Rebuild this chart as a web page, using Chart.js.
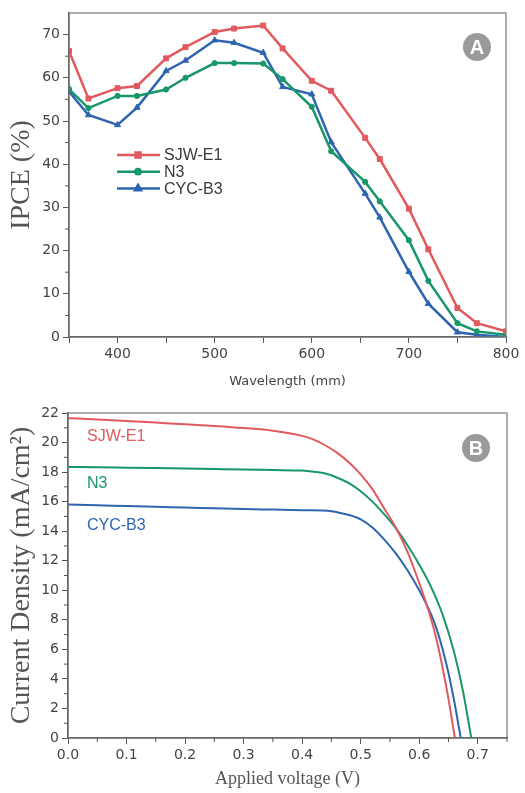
<!DOCTYPE html>
<html>
<head>
<meta charset="utf-8">
<script src="https://cdn.jsdelivr.net/npm/chart.js@4/dist/chart.umd.min.js"></script>
<style>
  body { margin: 0; background: #fff; }
  #wrap { position: relative; width: 525px; height: 793px; }
  #chartA { position: absolute; left: 0; top: 0; }
  #chartB { position: absolute; left: 0; top: 390px; }
</style>
</head>
<body>
<div id="wrap">
  <canvas id="chartA" width="525" height="390"></canvas>
  <canvas id="chartB" width="525" height="403"></canvas>
</div>
<script>
// ---- panel A : IPCE vs wavelength ----
var wavelengths = [350, 370, 400, 420, 450, 470, 500, 520, 550, 570, 600, 620, 655, 670, 700, 720, 750, 770, 800];
var ipceSJW = [66.2, 55.2, 57.6, 58.1, 64.5, 67.1, 70.6, 71.4, 72.1, 66.8, 59.3, 57.0, 46.1, 41.2, 29.7, 20.3, 6.7, 3.2, 1.3];
var ipceN3  = [57.4, 53.0, 55.8, 55.8, 57.3, 60.0, 63.4, 63.4, 63.3, 59.7, 53.3, 43.0, 35.9, 31.4, 22.4, 13.0, 3.2, 1.3, 0.5];
var ipceCYC = [56.8, 51.4, 49.1, 53.1, 61.6, 64.0, 68.7, 68.1, 65.8, 57.9, 56.2, 45.1, 33.2, 27.7, 15.1, 7.7, 1.1, 0.5, 0.0];
var ipceXTicks = [350, 400, 450, 500, 550, 600, 650, 700, 750, 800];
var ipceYTicks = [0, 10, 20, 30, 40, 50, 60, 70];
var ipceYMinor = [5, 15, 25, 35, 45, 55, 65];

// ---- panel B : J-V curves ----
var sjwV = [0, 0.05, 0.1, 0.15, 0.2, 0.25, 0.3, 0.35, 0.4, 0.42, 0.44, 0.46, 0.48, 0.5, 0.52, 0.54, 0.56, 0.58, 0.6, 0.61, 0.62, 0.63, 0.64, 0.65, 0.661];
var sjwJ = [21.65, 21.56, 21.46, 21.35, 21.24, 21.12, 20.98, 20.8, 20.45, 20.2, 19.8, 19.3, 18.65, 17.85, 16.85, 15.55, 14.25, 12.6, 10.5, 9.35, 8.1, 6.6, 4.75, 2.65, 0];
var n3V  = [0, 0.05, 0.1, 0.15, 0.2, 0.25, 0.3, 0.35, 0.4, 0.42, 0.44, 0.46, 0.48, 0.5, 0.52, 0.54, 0.56, 0.58, 0.6, 0.62, 0.64, 0.66, 0.675, 0.689];
var n3J  = [18.35, 18.33, 18.3, 18.27, 18.24, 18.21, 18.18, 18.14, 18.1, 18.02, 17.9, 17.62, 17.25, 16.7, 16.0, 15.15, 14.2, 13.05, 11.75, 10.25, 8.35, 5.75, 3.13, 0];
var cycV = [0, 0.05, 0.1, 0.15, 0.2, 0.25, 0.3, 0.35, 0.4, 0.45, 0.46, 0.48, 0.5, 0.52, 0.54, 0.56, 0.58, 0.6, 0.62, 0.63, 0.64, 0.65, 0.66, 0.671];
var cycJ = [15.8, 15.75, 15.7, 15.65, 15.6, 15.55, 15.5, 15.46, 15.42, 15.35, 15.28, 15.1, 14.8, 14.25, 13.45, 12.5, 11.35, 10.0, 8.4, 7.35, 6.0, 4.4, 2.45, 0];
var jvXTicks = [0, 0.1, 0.2, 0.3, 0.4, 0.5, 0.6, 0.7];
var jvXMinor = [0.05, 0.15, 0.25, 0.35, 0.45, 0.55, 0.65, 0.75];
var jvYTicks = [0, 2, 4, 6, 8, 10, 12, 14, 16, 18, 20, 22];
var jvYMinor = [1, 3, 5, 7, 9, 11, 13, 15, 17, 19, 21];

var seriesNames = ['SJW-E1', 'N3', 'CYC-B3'];
var RED = '#e05a5e', GREEN = '#17976a', BLUE = '#2e64b0';
var AXIS = '#555';

function pairs(xs, ys) {
  return xs.map(function (x, i) { return { x: x, y: ys[i] }; });
}
function fixTicks(values) {
  return function (scale) { scale.ticks = values.map(function (v) { return { value: v }; }); };
}

var tickFont = { family: 'DejaVu Sans', size: 14 };

// box, minor ticks, badge, in-plot labels
var decorPlugin = {
  id: 'decor',
  afterDraw: function (chart, args, opts) {
    var ctx = chart.ctx, a = chart.chartArea;
    ctx.save();
    ctx.strokeStyle = '#777';
    ctx.lineWidth = 1.2;
    ctx.strokeRect(a.left, a.top, a.right - a.left, a.bottom - a.top);

    ctx.strokeStyle = AXIS;
    ctx.lineWidth = 1;
    (opts.minorX || []).forEach(function (v) {
      var x = chart.scales.x.getPixelForValue(v);
      ctx.beginPath(); ctx.moveTo(x, a.bottom); ctx.lineTo(x, a.bottom + 4); ctx.stroke();
    });
    (opts.minorY || []).forEach(function (v) {
      var y = chart.scales.y.getPixelForValue(v);
      ctx.beginPath(); ctx.moveTo(a.left, y); ctx.lineTo(a.left - 4, y); ctx.stroke();
    });

    if (opts.badge) {
      var b = opts.badge;
      ctx.fillStyle = '#9a9a9a';
      ctx.beginPath(); ctx.arc(b.x, b.y, 14, 0, Math.PI * 2); ctx.fill();
      ctx.fillStyle = '#fff';
      ctx.font = 'bold 20px "Liberation Sans"';
      ctx.textAlign = 'center';
      ctx.textBaseline = 'middle';
      ctx.fillText(b.text, b.x, b.y + 1);
    }

    if (opts.legend) {
      ctx.font = '16px "Liberation Sans"';
      ctx.textAlign = 'left';
      ctx.textBaseline = 'middle';
      chart.data.datasets.forEach(function (ds, i) {
        var y = opts.legend.y + i * 16.7;
        ctx.strokeStyle = ds.borderColor;
        ctx.lineWidth = 2.5;
        ctx.beginPath(); ctx.moveTo(opts.legend.x, y); ctx.lineTo(opts.legend.x + 43, y); ctx.stroke();
        ctx.fillStyle = ds.borderColor;
        Chart.helpers.drawPoint(ctx, { pointStyle: ds.pointStyle, radius: ds.pointRadius, rotation: 0, borderWidth: 1 }, opts.legend.x + 21, y);
        ctx.fillStyle = '#3a3a3a';
        ctx.fillText(ds.label, opts.legend.x + 47, y + 1);
      });
    }

    if (opts.labels) {
      ctx.font = '16px "Liberation Sans"';
      ctx.textAlign = 'left';
      ctx.textBaseline = 'middle';
      opts.labels.forEach(function (l, i) {
        ctx.fillStyle = chart.data.datasets[i].borderColor;
        ctx.fillText(chart.data.datasets[i].label, l.x, l.y);
      });
    }
    ctx.restore();
  }
};

var whiteBg = {
  id: 'whiteBg',
  beforeDraw: function (chart) {
    var ctx = chart.ctx;
    ctx.save();
    ctx.fillStyle = 'white';
    ctx.fillRect(0, 0, chart.width, chart.height);
    ctx.restore();
  }
};

var chartA = new Chart(document.getElementById('chartA'), {
  type: 'line',
  data: {
    datasets: [
      { label: seriesNames[0], data: pairs(wavelengths, ipceSJW), borderColor: RED, backgroundColor: RED,
        pointStyle: 'rect', pointRadius: 3.5, pointBorderWidth: 1, borderWidth: 2.5, tension: 0 },
      { label: seriesNames[1], data: pairs(wavelengths, ipceN3), borderColor: GREEN, backgroundColor: GREEN,
        pointStyle: 'circle', pointRadius: 2.6, pointBorderWidth: 1, borderWidth: 2.5, tension: 0 },
      { label: seriesNames[2], data: pairs(wavelengths, ipceCYC), borderColor: BLUE, backgroundColor: BLUE,
        pointStyle: 'triangle', pointRadius: 3.5, pointBorderWidth: 1, borderWidth: 2.5, tension: 0 }
    ]
  },
  options: {
    animation: false,
    responsive: false,
    layout: { padding: { left: 0, right: 19, top: 13, bottom: 0 } },
    plugins: {
      legend: { display: false },
      tooltip: { enabled: false },
      decor: {
        minorY: ipceYMinor,
        badge: { x: 477, y: 47, text: 'A' },
        legend: { x: 117, y: 155 }
      }
    },
    scales: {
      x: {
        type: 'linear', min: 350, max: 800,
        afterBuildTicks: fixTicks(ipceXTicks),
        afterFit: function (s) { s.height = 53; },
        border: { display: true, color: AXIS, width: 1.5 },
        grid: { drawOnChartArea: false, drawTicks: true, tickLength: 6, tickColor: AXIS },
        ticks: { font: tickFont, color: '#444', padding: 3, maxRotation: 0,
          callback: function (v) { return v % 100 === 0 ? v : ''; } },
        title: { display: true, text: 'Wavelength (mm)', font: { family: 'DejaVu Sans', size: 13 },
          color: '#444', padding: { top: 0, bottom: 1 } }
      },
      y: {
        min: 0, max: 75,
        afterBuildTicks: fixTicks(ipceYTicks),
        afterFit: function (s) { s.width = 69; },
        border: { display: true, color: AXIS, width: 1.5 },
        grid: { drawOnChartArea: false, drawTicks: true, tickLength: 6, tickColor: AXIS },
        ticks: { font: tickFont, color: '#444', padding: 3 },
        title: { display: true, text: 'IPCE (%)', font: { family: 'Liberation Serif', size: 28 },
          color: '#555', padding: { top: 5, bottom: 0 } }
      }
    }
  },
  plugins: [whiteBg, decorPlugin]
});

var chartB = new Chart(document.getElementById('chartB'), {
  type: 'line',
  data: {
    datasets: [
      { label: seriesNames[0], data: pairs(sjwV, sjwJ), borderColor: RED, borderWidth: 2, pointRadius: 0,
        cubicInterpolationMode: 'monotone' },
      { label: seriesNames[1], data: pairs(n3V, n3J), borderColor: GREEN, borderWidth: 2, pointRadius: 0,
        cubicInterpolationMode: 'monotone' },
      { label: seriesNames[2], data: pairs(cycV, cycJ), borderColor: BLUE, borderWidth: 2, pointRadius: 0,
        cubicInterpolationMode: 'monotone' }
    ]
  },
  options: {
    animation: false,
    responsive: false,
    layout: { padding: { left: 0, right: 18, top: 23, bottom: 0 } },
    plugins: {
      legend: { display: false },
      tooltip: { enabled: false },
      decor: {
        minorX: jvXMinor,
        minorY: jvYMinor,
        badge: { x: 476, y: 58, text: 'B' },
        labels: [{ x: 87, y: 47 }, { x: 87, y: 94 }, { x: 87, y: 136 }]
      }
    },
    scales: {
      x: {
        type: 'linear', min: 0, max: 0.75,
        afterBuildTicks: fixTicks(jvXTicks),
        afterFit: function (s) { s.height = 55; },
        border: { display: true, color: AXIS, width: 1.5 },
        grid: { drawOnChartArea: false, drawTicks: true, tickLength: 6, tickColor: AXIS },
        ticks: { font: tickFont, color: '#444', padding: 3, maxRotation: 0,
          callback: function (v) { return v.toFixed(1); } },
        title: { display: true, text: 'Applied voltage (V)', font: { family: 'Liberation Serif', size: 18 },
          color: '#555', padding: { top: 0, bottom: 3 } }
      },
      y: {
        min: 0, max: 22,
        afterBuildTicks: fixTicks(jvYTicks),
        afterFit: function (s) { s.width = 68; },
        border: { display: true, color: AXIS, width: 1.5 },
        grid: { drawOnChartArea: false, drawTicks: true, tickLength: 6, tickColor: AXIS },
        ticks: { font: tickFont, color: '#444', padding: 3 },
        title: { display: true, text: 'Current Density (mA/cm²)', font: { family: 'Liberation Serif', size: 28 },
          color: '#555', padding: { top: 5, bottom: 0 } }
      }
    }
  },
  plugins: [whiteBg, decorPlugin]
});
</script>
</body>
</html>
